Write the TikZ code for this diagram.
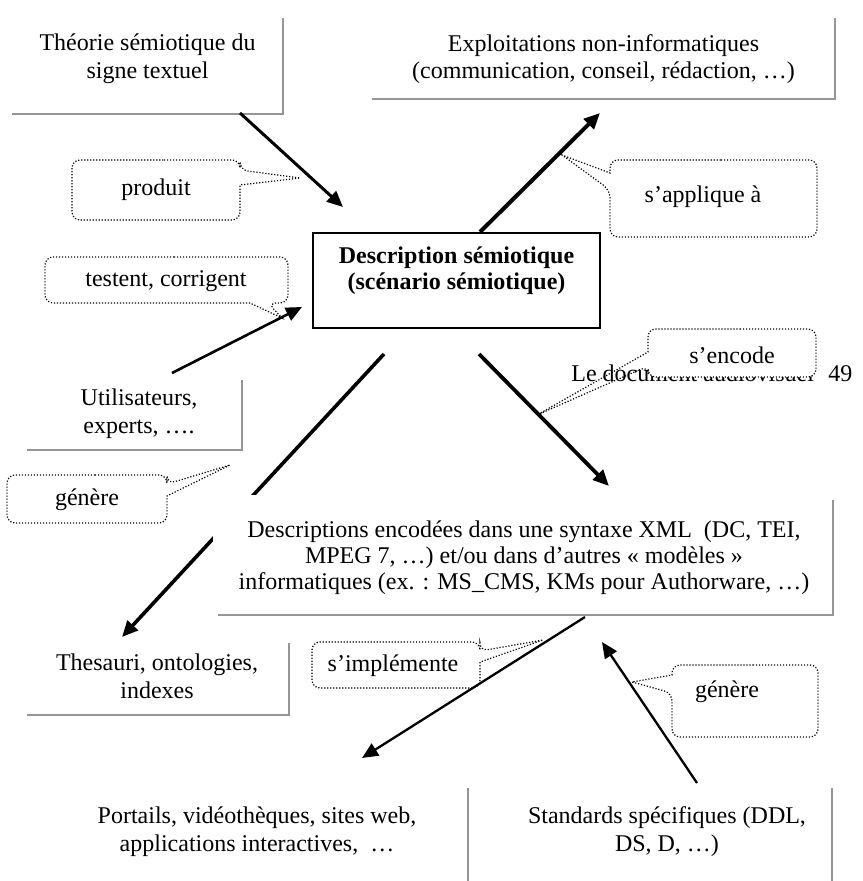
\documentclass[tikz,border=0pt]{standalone}
\usepackage{fontspec}
\setmainfont{Liberation Serif}
\usetikzlibrary{arrows.meta}
\definecolor{shadowgray}{RGB}{150,150,150}
\begin{document}
\begin{tikzpicture}[x=0.5pt,y=-0.5pt,
  txt/.style={font=\fontsize{12}{13.8}\selectfont, align=center, inner sep=0pt},
  frame/.style={inner sep=0pt, outer sep=0pt},
  shadowline/.style={draw=shadowgray, line width=1.4pt},
  callout/.style={draw=black, fill=white, line width=0.6pt, dash pattern=on 0.6pt off 0.9pt},
  arrowline/.style={-{Triangle[length=8pt,width=7pt]}, line width=#1}]
\useasboundingbox (0,0) rectangle (862,881);

% page header text behind the callout
\node[txt, anchor=base west] (hdr) at (571,381) {Le document audiovisuel};
\node[txt, anchor=base west] (pg) at (828,381) {49};

% arrow partly hidden by the encoded-descriptions box
\coordinate (a4s) at (384,354);
\coordinate (a4e) at (122,637);
\draw[arrowline=1.8pt] (a4s) -- (a4e);

% frames
\node[frame, fill=white, minimum width=310pt, minimum height=60pt] (enc) at (523,555) {};
\node[frame, minimum width=135.5pt, minimum height=48pt] (theo) at (147.5,66) {};
\node[frame, minimum width=231.5pt, minimum height=40.5pt] (expl) at (603.5,58.5) {};
\node[frame, draw=black, line width=0.8pt, minimum width=143.5pt, minimum height=47.5pt] (desc) at (456.5,280.5) {};
\node[frame, minimum width=107.5pt, minimum height=35pt] (util) at (134.5,415) {};
\node[frame, minimum width=131pt, minimum height=36pt] (thes) at (158,679) {};
\node[frame, minimum width=211pt, minimum height=56pt] (port) at (257,844) {};
\node[frame, minimum width=165pt, minimum height=56pt] (stand) at (667,844) {};

\draw[shadowline] (theo.north east) -- (theo.south east) -- (theo.south west);
\draw[shadowline] (expl.north east) -- (expl.south east) -- (expl.south west);
\draw[shadowline] (util.north east) -- (util.south east) -- (util.south west);
\draw[shadowline] ([yshift=-2.5pt]enc.north east) -- (enc.south east) -- ([xshift=2.5pt]enc.south west);
\draw[shadowline] (thes.north east) -- (thes.south east) -- (thes.south west);
\draw[shadowline] (port.north east) -- (port.south east);
\draw[shadowline] (stand.north east) -- (stand.south east);

% box texts
\node[txt] (theot) at (147.5,58.5) {Théorie sémiotique du\\signe textuel};
\node[txt] (explt) at (603.5,59) {Exploitations non-informatiques\\(communication, conseil, rédaction, …)};
\node[txt, font=\fontsize{12}{12.8}\selectfont\bfseries] (desct) at (456.5,270.5) {Description sémiotique\\(scénario sémiotique)};
\node[txt] (utilt) at (139,413.5) {Utilisateurs,\\experts, ….};
\node[txt, font=\fontsize{12}{13}\selectfont] (enct) at (524,558) {Descriptions encodées dans une syntaxe XML\ \ (DC, TEI,\\MPEG 7, …) et/ou dans d’autres « modèles »\\informatiques (ex. : MS\_CMS, KMs pour Authorware, …)};
\node[txt] (thest) at (157,676) {Thesauri, ontologies,\\indexes};
\node[txt] (portt) at (257,831.5) {Portails, vidéothèques, sites web,\\applications interactives,\ \ …};
\node[txt] (standt) at (667,831.5) {Standards spécifiques (DDL,\\DS, D, …)};

% callouts
\coordinate (prodtip) at (300,178);
\draw[callout] (156,160) [rounded corners=4pt] -- (240,160) -- (240,170) [sharp corners] -- (prodtip) -- (240,185) [rounded corners=4pt] -- (240,220) -- (72,220) -- (72,160) -- cycle;
\node[txt] (lprod) at (156,190) {produit};

\coordinate (appltip) at (562,155);
\draw[callout] (713,160) [rounded corners=4pt] -- (817,160) -- (817,237) -- (610,237) -- (610,190) [sharp corners] -- (appltip) -- (610,173) [rounded corners=4pt] -- (610,160) -- cycle;
\node[txt] (lappl) at (703,197) {s’applique à};

\coordinate (testtip) at (282,318);
\draw[callout] (166,257) [rounded corners=4pt] -- (288,257) -- (288,303) -- (268,303) [sharp corners] -- (testtip) -- (250,303) [rounded corners=4pt] -- (45,303) -- (45,257) -- cycle;
\node[txt] (ltest) at (166,281) {testent, corrigent};

\coordinate (gentipa) at (230,465);
\draw[callout] (87,475) [rounded corners=4pt] -- (167,475) -- (167,484) [sharp corners] -- (gentipa) -- (167,496) [rounded corners=4pt] -- (167,523) -- (7,523) -- (7,475) -- cycle;
\node[txt] (lgena) at (87,500) {génère};

% s'encode: body hides the header text, the pointer lets it show
\coordinate (enctip) at (537,415);
\fill[white, rounded corners=4pt] (648,329) rectangle (816,377);
\draw[callout, fill=none] (732,329) [rounded corners=4pt] -- (816,329) -- (816,377) -- (648,377) -- (648,366) [sharp corners] -- (enctip) -- (648,352) [rounded corners=4pt] -- (648,329) -- cycle;
\node[txt] (lenc) at (732,355) {s’encode};

\coordinate (impltip) at (543,640);
\draw[callout] (396,642) [rounded corners=4pt] -- (480,642) -- (480,651) [sharp corners] -- (impltip) -- (480,662) [rounded corners=4pt] -- (480,688) -- (312,688) -- (312,642) -- cycle;
\node[txt] (limpl) at (393,666) {s’implémente};

\coordinate (gentipb) at (632,682);
\draw[callout] (745,665) [rounded corners=4pt] -- (818,665) -- (818,737) -- (672,737) -- (672,693) [sharp corners] -- (gentipb) -- (672,675) [rounded corners=4pt] -- (672,665) -- cycle;
\node[txt] (lgenb) at (727,692) {génère};

% arrows
\coordinate (a1s) at (240,113);
\coordinate (a1e) at (343,207);
\draw[arrowline=1.5pt] (a1s) -- (a1e);

\coordinate (a2s) at (480,232);
\coordinate (a2e) at (600,113);
\draw[arrowline=2pt] (a2s) -- (a2e);

\coordinate (a3s) at (172,373);
\coordinate (a3e) at (302,307);
\draw[arrowline=1.3pt] (a3s) -- (a3e);

\coordinate (a5s) at (479,354);
\coordinate (a5e) at (609,486);
\draw[arrowline=1.9pt] (a5s) -- (a5e);

\coordinate (a6s) at (585,617);
\coordinate (a6e) at (362,758);
\draw[arrowline=1.15pt] (a6s) -- (a6e);

\coordinate (a7s) at (697,783);
\coordinate (a7e) at (602,642);
\draw[arrowline=1.15pt] (a7s) -- (a7e);
\end{tikzpicture}
\end{document}
